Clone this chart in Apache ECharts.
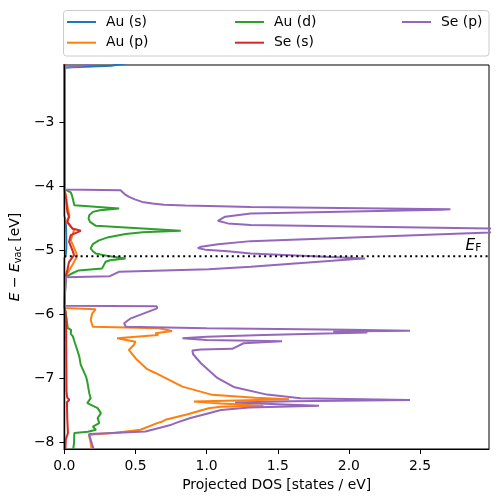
<!DOCTYPE html>
<html><head><meta charset="utf-8">
<script src="https://cdn.jsdelivr.net/npm/echarts@6/dist/echarts.min.js"></script>
<style>html,body{margin:0;padding:0;background:#fff}#c{width:498px;height:502px}</style>
</head><body><div id="c"></div>
<script>
// ---- data: [energy (eV), projected DOS (states/eV)] ----
const seriesNames = ['Au (s)', 'Au (p)', 'Au (d)', 'Se (s)', 'Se (p)'];
const seriesColors = ['#1f77b4', '#ff7f0e', '#2ca02c', '#d62728', '#9467bd'];
const xTicks = [0, 0.5, 1.0, 1.5, 2.0, 2.5];
const yTicks = [-8, -7, -6, -5, -4, -3];
const E_FERMI = -5.09;
const X_RANGE = [0, 2.985];
const Y_RANGE = [-8.1, -2.1];

const auS = [[-2.05,0.5],[-2.11,0.33],[-2.14,0.005],[-2.2,0],[-4.45,0],[-4.55,0.010],[-4.75,0.013],[-4.95,0.014],[-5.06,0.010],[-5.12,0],[-8.2,0]];

const auP = [[-2.05,0],[-4.04,0],[-4.134,0.011],[-4.316,0.022],[-4.446,0.035],[-4.55,0.017],[-4.629,0.045],[-4.68,0.068],[-4.836,0.045],[-5.019,0.080],[-5.086,0.091],[-5.226,0.056],[-5.356,0.021],[-5.41,0.008],[-5.43,0],
  [-5.895,0],[-5.917,0.22],[-5.98,0.196],[-6.084,0.185],[-6.189,0.20],[-6.214,0.664],[-6.256,0.757],[-6.292,0.64],[-6.318,0.66],[-6.37,0.371],[-6.396,0.383],[-6.423,0.50],[-6.474,0.488],[-6.552,0.453],[-6.682,0.50],[-6.853,0.582],[-6.916,0.643],[-7.125,0.83],[-7.254,1.04],[-7.30,1.34],[-7.321,1.58],[-7.359,0.91],[-7.39,1.10],[-7.426,1.40],[-7.44,1.10],[-7.462,1.015],[-7.56,0.86],[-7.644,0.71],[-7.67,0.69],[-7.696,0.652],[-7.80,0.535],[-7.85,0.35],[-7.878,0.173],[-8.008,0.185],[-8.2,0.20]];

const auD = [[-2.05,0],[-4.04,0],[-4.07,0.01],[-4.09,0.045],[-4.15,0.055],[-4.29,0.07],[-4.342,0.385],[-4.37,0.25],[-4.395,0.20],[-4.446,0.175],[-4.50,0.17],[-4.55,0.18],[-4.613,0.222],[-4.691,0.818],[-4.712,0.55],[-4.74,0.43],[-4.79,0.31],[-4.84,0.243],[-4.90,0.20],[-4.966,0.185],[-5.01,0.20],[-5.044,0.22],[-5.09,0.32],[-5.125,0.43],[-5.15,0.32],[-5.175,0.29],[-5.278,0.265],[-5.31,0.10],[-5.35,0.06],[-5.382,0.033],[-5.41,0.01],[-5.43,0],
  [-5.87,0],[-5.90,0.005],[-6.05,0.015],[-6.21,0.024],[-6.24,0.047],[-6.267,0.056],[-6.30,0.045],[-6.34,0.06],[-6.37,0.047],[-6.40,0.068],[-6.448,0.075],[-6.55,0.09],[-6.657,0.105],[-6.786,0.115],[-6.90,0.138],[-6.969,0.152],[-7.047,0.161],[-7.228,0.175],[-7.306,0.185],[-7.384,0.161],[-7.462,0.234],[-7.54,0.257],[-7.618,0.234],[-7.696,0.245],[-7.75,0.20],[-7.80,0.222],[-7.83,0.165],[-7.85,0.07],[-8.008,0.068],[-8.2,0.055]];

const seS = [[-2.05,0],[-4.04,0],[-4.2,0.012],[-4.395,0.021],[-4.473,0.033],[-4.551,0.021],[-4.654,0.056],[-4.691,0.115],[-4.758,0.045],[-4.863,0.033],[-4.992,0.056],[-5.07,0.068],[-5.175,0.033],[-5.304,0.021],[-5.41,0.008],[-5.43,0],
  [-5.87,0],[-5.95,0.008],[-6.2,0.012],[-6.8,0.014],[-7.2,0.015],[-7.30,0.02],[-7.33,0.035],[-7.37,0.018],[-7.6,0.02],[-7.85,0.025],[-7.95,0.01],[-8.2,0.005]];

const seP = [[-2.05,0.25],[-2.11,0.126],[-2.145,0.005],[-2.2,0],[-4.045,0],[-4.056,0.395],[-4.085,0.405],[-4.12,0.425],[-4.16,0.455],[-4.20,0.495],[-4.239,0.547],[-4.265,0.62],[-4.285,0.70],[-4.297,0.85],[-4.303,1.014],[-4.317,1.31],[-4.353,2.714],[-4.362,2.65],[-4.42,1.31],[-4.47,1.13],[-4.535,1.079],[-4.575,1.15],[-4.60,1.31],[-4.654,2.99],[-4.685,3.25],[-4.716,2.99],[-4.852,1.31],[-4.90,1.08],[-4.94,0.96],[-4.961,0.938],[-4.985,0.99],[-5.01,1.15],[-5.044,1.31],[-5.122,2.114],[-5.13,2.05],[-5.253,1.31],[-5.293,1.014],[-5.331,0.383],[-5.40,0.32],[-5.418,0.01],[-5.43,0],
  [-5.86,0],[-5.87,0.65],[-5.902,0.652],[-6.058,0.467],[-6.136,0.42],[-6.19,0.432],[-6.214,1.0],[-6.235,2.0],[-6.251,2.43],[-6.265,1.89],[-6.28,2.13],[-6.32,1.4],[-6.345,1.0],[-6.37,0.83],[-6.395,1.0],[-6.417,1.53],[-6.448,1.26],[-6.535,1.18],[-6.545,0.96],[-6.56,0.90],[-6.62,0.905],[-6.76,0.96],[-6.90,1.03],[-6.99,1.075],[-7.13,1.19],[-7.25,1.425],[-7.306,1.66],[-7.333,2.43],[-7.355,1.6],[-7.374,1.2],[-7.40,1.5],[-7.426,1.79],[-7.45,1.3],[-7.49,1.1],[-7.54,1.015],[-7.62,0.88],[-7.696,0.78],[-7.73,0.74],[-7.827,0.57],[-7.867,0.173],[-8.034,0.196],[-8.2,0.22]];

const allSeries = [auS, auP, auD, seS, seP];

// ---- chart ----
const FONT = 'DejaVu Sans';
const FS = 13.9;
const chart = echarts.init(document.getElementById('c'), null, {renderer: 'canvas'});
const minus = v => String(v).replace('-', '\u2212');

const lineSeries = allSeries.map((arr, i) => ({
  name: seriesNames[i],
  type: 'line',
  data: arr.map(p => [p[1], p[0]]),
  showSymbol: false,
  symbol: 'none',
  clip: true,
  lineStyle: {width: 2, color: seriesColors[i]},
  itemStyle: {color: seriesColors[i]},
  z: 2
}));
lineSeries.push({
  name: 'EF',
  type: 'line',
  data: [[X_RANGE[0], E_FERMI], [X_RANGE[1], E_FERMI]],
  showSymbol: false, symbol: 'none',
  lineStyle: {width: 2, color: '#000', type: [2, 3.4], cap: 'butt'},
  z: 3
});

function legendCol(left, names) {
  return {
    orient: 'vertical', left: left, top: 15, padding: 0,
    itemWidth: 29, itemHeight: 2, itemGap: 6.7, icon: 'rect',
    data: names,
    textStyle: {fontFamily: FONT, fontSize: FS, color: '#000', padding: [0, 0, 0, 5]},
    selectedMode: false
  };
}

chart.setOption({
  animation: false,
  backgroundColor: '#fff',
  textStyle: {fontFamily: FONT},
  grid: {left: 63, right: 9, top: 65, bottom: 53, show: true, borderColor: '#000', borderWidth: 1, backgroundColor: 'transparent'},
  legend: [
    legendCol(67, [seriesNames[0], seriesNames[1]]),
    legendCol(235, [seriesNames[2], seriesNames[3]]),
    legendCol(402, [seriesNames[4]])
  ],
  xAxis: {
    type: 'value', min: X_RANGE[0], max: X_RANGE[1], z: 5,
    name: 'Projected DOS [states / eV]', nameLocation: 'middle', nameGap: 27,
    nameTextStyle: {fontFamily: FONT, fontSize: FS, color: '#000'},
    axisLine: {show: true, onZero: false, lineStyle: {color: '#000', width: 1}},
    axisTick: {show: true, inside: false, length: 5, lineStyle: {color: '#000', width: 1}, customValues: xTicks},
    axisLabel: {show: true, margin: 10, fontFamily: FONT, fontSize: FS, color: '#000', customValues: xTicks, formatter: v => v.toFixed(1)},
    splitLine: {show: false}
  },
  yAxis: {
    type: 'value', min: Y_RANGE[0], max: Y_RANGE[1], z: 5,
    name: '{it|E} \u2212 {it|E}{sub|vac} [eV]', nameLocation: 'middle', nameGap: 34, nameRotate: 90,
    nameTextStyle: {fontFamily: FONT, fontSize: FS, color: '#000',
      rich: {it: {fontFamily: FONT, fontSize: FS, fontStyle: 'italic', color: '#000'},
             sub: {fontFamily: FONT, fontSize: 9.7, color: '#000', verticalAlign: 'bottom', padding: [6, 0, 0, 0]}}},
    axisLine: {show: true, onZero: false, lineStyle: {color: '#000', width: 1}},
    axisTick: {show: true, inside: false, length: 5, lineStyle: {color: '#000', width: 1}, customValues: yTicks},
    axisLabel: {show: true, margin: 10, fontFamily: FONT, fontSize: FS, color: '#000', customValues: yTicks, formatter: v => minus(v)},
    splitLine: {show: false}
  },
  series: lineSeries
});

const efPos = chart.convertToPixel({gridIndex: 0}, [X_RANGE[1] * 0.982, E_FERMI]);
chart.setOption({
  graphic: [
    {type: 'rect', z: -1, silent: true,
     shape: {x: 63.5, y: 10.5, width: 425.5, height: 45.5, r: 3},
     style: {fill: 'rgba(255,255,255,0.8)', stroke: '#cccccc', lineWidth: 1}},
    {type: 'text', z: 10, silent: true, x: efPos[0], y: efPos[1] - 3,
     style: {text: '{e|E}{f|F}', align: 'right', verticalAlign: 'bottom', textAlign: 'right', textVerticalAlign: 'bottom',
       rich: {e: {fontFamily: FONT, fontSize: 15.3, fontStyle: 'italic', fill: '#000', color: '#000'},
              f: {fontFamily: FONT, fontSize: 10.7, fill: '#000', color: '#000', verticalAlign: 'bottom', padding: [4, 0, 0, 0]}}}}
  ]
});
</script>
</body></html>
